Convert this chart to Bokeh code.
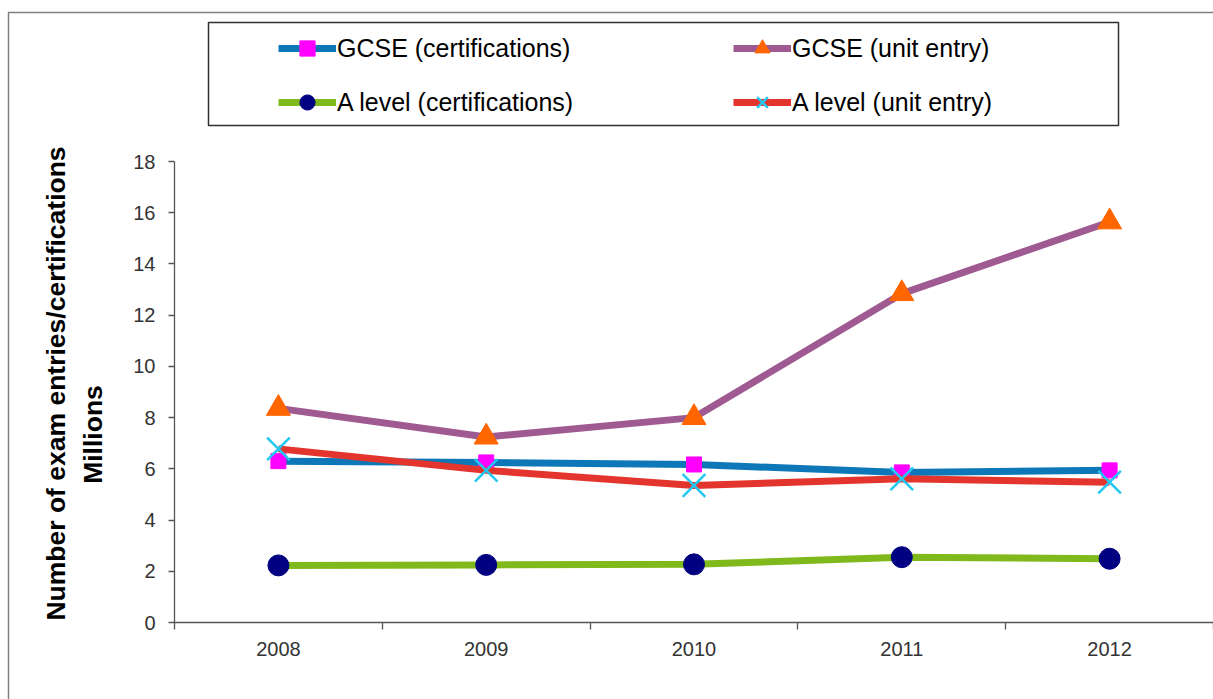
import math
from bokeh.plotting import figure
from bokeh.models import (Range1d, FixedTicker, Legend, LegendItem, Label, BoxAnnotation)
from bokeh.embed import file_html
from bokeh.resources import INLINE

# ---------------- data ----------------
years = [2008, 2009, 2010, 2011, 2012]
gcse_cert = [6.30, 6.25, 6.17, 5.86, 5.94]
gcse_unit = [8.36, 7.24, 8.00, 12.84, 15.64]
alevel_cert = [2.23, 2.25, 2.27, 2.55, 2.49]
alevel_unit = [6.78, 5.94, 5.35, 5.61, 5.48]
y_ticks = [0, 2, 4, 6, 8, 10, 12, 14, 16, 18]

y_title = "Number of exam entries/certifications"
y_units = "Millions"
names = ["GCSE (certifications)", "GCSE (unit entry)",
         "A level (certifications)", "A level (unit entry)"]

# ---------------- layout ----------------
FONT = "Liberation Sans"
W, H = 1213, 699
AX_L, AX_R, AX_T, AX_B = 174, 1213, 161, 622   # plot area in canvas pixels

x_lo, x_hi = years[0] - 0.5, years[-1] + 0.5
y_lo, y_hi = y_ticks[0], y_ticks[-1]
ppx = (AX_R - AX_L) / (x_hi - x_lo)
ppy = (AX_B - AX_T) / (y_hi - y_lo)

p = figure(width=W, height=H, output_backend="svg", toolbar_location=None,
           x_range=Range1d(x_lo - AX_L / ppx, x_hi + (W - AX_R) / ppx),
           y_range=Range1d(y_lo - (H - AX_B) / ppy, y_hi + AX_T / ppy),
           min_border=0)
p.outline_line_color = None
p.xgrid.visible = False
p.ygrid.visible = False

# axes drawn at fixed positions inside the canvas
p.xaxis.fixed_location = y_lo
p.yaxis.fixed_location = x_lo
p.xaxis.bounds = (x_lo, x_hi)
p.yaxis.bounds = (y_lo, y_hi)
p.xaxis.ticker = FixedTicker(ticks=years,
                             minor_ticks=[y - 0.5 for y in years] + [years[-1] + 0.5])
p.xaxis.major_tick_out = 0
p.xaxis.major_tick_in = 0
p.xaxis.minor_tick_out = 7
p.xaxis.minor_tick_in = 0
p.yaxis.ticker = FixedTicker(ticks=y_ticks, minor_ticks=[])
p.yaxis.major_tick_out = 6
p.yaxis.major_tick_in = 0
p.yaxis.minor_tick_out = 0
for ax in (p.xaxis, p.yaxis):
    ax.axis_line_color = "#555555"
    ax.axis_line_width = 1.3
    ax.major_tick_line_color = "#555555"
    ax.minor_tick_line_color = "#555555"
    ax.major_tick_line_width = 1.3
    ax.minor_tick_line_width = 1.3
    ax.major_label_text_font = FONT
    ax.major_label_text_font_size = "20px"
    ax.major_label_text_color = "#333333"
p.xaxis.major_label_standoff = 12
p.yaxis.major_label_standoff = 13

# ---------------- series ----------------
series = [
    (gcse_cert, "#0E77B8", "square", "#FF00FF", 15, None),
    (gcse_unit, "#9F5A91", "triangle", "#FF6600", 24, None),
    (alevel_cert, "#80B91C", "circle", "#000080", 21, None),
    (alevel_unit, "#E3352D", "x", "#22C8F2", 32, 2.5),
]
items = []
for (vals, lc, mk, mc, ms, mlw), name in zip(series, names):
    r1 = p.line(years, vals, line_color=lc, line_width=7)
    if mk == "x":
        r2 = p.scatter(years, vals, marker=mk, size=ms, line_color=mc, line_width=mlw)
    else:
        r2 = p.scatter(years, vals, marker=mk, size=ms, fill_color=mc, line_color=mc)
    items.append(LegendItem(label=name, renderers=[r1, r2]))

# ---------------- legend ----------------
legend = Legend(items=items, orientation="horizontal", ncols=2,
                location=(278, H - 121), padding=0, margin=0, spacing=16,
                glyph_width=58, glyph_height=38, label_standoff=1, label_width=380,
                label_text_font=FONT, label_text_font_size="25px",
                label_text_color="#000000", border_line_color=None,
                background_fill_alpha=0)
p.add_layout(legend, "center")

# legend box and outer chart frame (screen units, measured from bottom-left)
p.add_layout(BoxAnnotation(left=208, right=1118, top=H - 22, bottom=H - 125,
                           left_units="screen", right_units="screen",
                           top_units="screen", bottom_units="screen",
                           fill_alpha=0, line_color="#303030", line_alpha=1.0,
                           line_width=1.5))
p.add_layout(BoxAnnotation(left=8, right=W + 50, top=H - 12, bottom=-50,
                           left_units="screen", right_units="screen",
                           top_units="screen", bottom_units="screen",
                           fill_alpha=0, line_color="#808080", line_alpha=1.0,
                           line_width=1.5))

# y-axis title and display-unit label
p.add_layout(Label(x=55, y=H - 383, x_units="screen", y_units="screen", text=y_title,
                   angle=math.pi / 2, text_align="center", text_baseline="middle",
                   text_font=FONT, text_font_size="26.5px", text_font_style="bold",
                   text_color="#000000"))
p.add_layout(Label(x=92, y=H - 434, x_units="screen", y_units="screen", text=y_units,
                   angle=math.pi / 2, text_align="center", text_baseline="middle",
                   text_font=FONT, text_font_size="26.5px", text_font_style="bold",
                   text_color="#000000"))

open("out.html", "w").write(file_html(p, INLINE))
